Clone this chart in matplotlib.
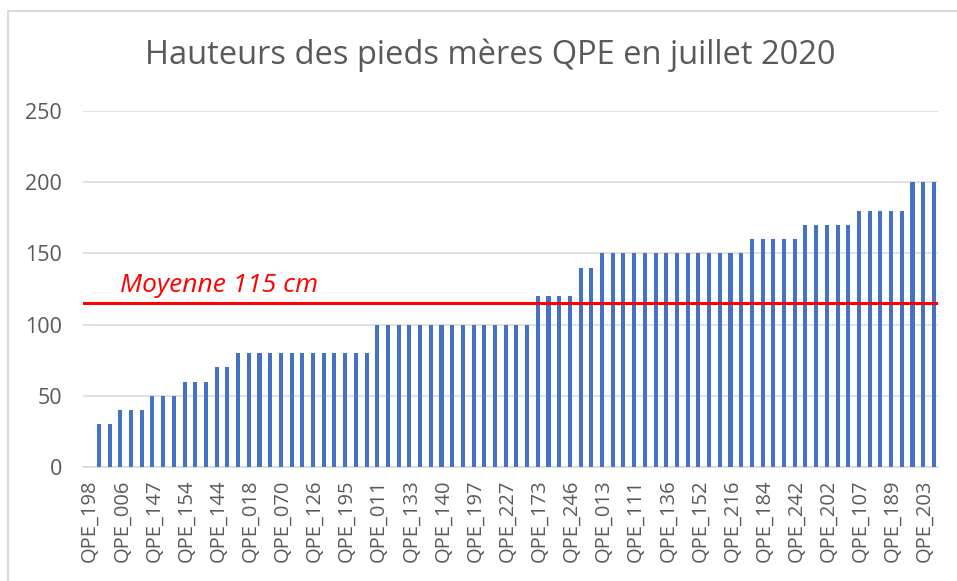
import matplotlib
matplotlib.use("Agg")
import matplotlib.pyplot as plt
import matplotlib.transforms as mtransforms
from matplotlib.lines import Line2D

# hauteurs (cm) des 79 pieds meres, triees
heights = [30, 30,
           40, 40, 40,
           50, 50, 50,
           60, 60, 60,
           70, 70,
           80, 80, 80, 80, 80, 80, 80, 80, 80, 80, 80, 80, 80,
           100, 100, 100, 100, 100, 100, 100, 100, 100, 100, 100, 100, 100, 100, 100,
           120, 120, 120, 120,
           140, 140,
           150, 150, 150, 150, 150, 150, 150, 150, 150, 150, 150, 150, 150, 150,
           160, 160, 160, 160, 160,
           170, 170, 170, 170, 170,
           180, 180, 180, 180, 180,
           200, 200, 200]

# une etiquette sur trois affichee sur l'axe
tick_labels = ['QPE_198', 'QPE_006', 'QPE_147', 'QPE_154', 'QPE_144', 'QPE_018',
               'QPE_070', 'QPE_126', 'QPE_195', 'QPE_011', 'QPE_133', 'QPE_140',
               'QPE_197', 'QPE_227', 'QPE_173', 'QPE_246', 'QPE_013', 'QPE_111',
               'QPE_136', 'QPE_152', 'QPE_216', 'QPE_184', 'QPE_242', 'QPE_202',
               'QPE_107', 'QPE_189', 'QPE_203']
mean_value = 115
mean_label = "Moyenne 115 cm"
title = "Hauteurs des pieds mères QPE en juillet 2020"

plt.rcParams['font.family'] = ['Open Sans', 'DejaVu Sans']
grey = '#595959'

fig = plt.figure(figsize=(9.57, 5.81), dpi=100)
ax = fig.add_axes([0.0867, 0.1962, 0.8933, 0.6128])

x = list(range(len(heights)))
ax.bar(x, heights, width=0.38, color='#4472C4', zorder=3)
ax.axhline(mean_value, color='#FF0000', lw=2.2, zorder=4)
ax.text(1.95, 123.0, mean_label, color='#FF0000', fontsize=19,
        style='italic', va='baseline', ha='left')

ax.set_ylim(0, 250)
ax.set_xlim(-1.49, len(heights) - 1 + 0.37)
ax.set_yticks([0, 50, 100, 150, 200, 250])
ax.yaxis.grid(True, color='#D9D9D9', lw=1.1, zorder=0)
ax.tick_params(axis='y', length=0, pad=15, labelsize=15.5, labelcolor=grey)

ax.set_xticks(x[::3])
ax.set_xticklabels(tick_labels, rotation=90, fontsize=14.5, color=grey)
ax.tick_params(axis='x', length=0, pad=9)
shift = mtransforms.ScaledTranslation(-9 / 100, 0, fig.dpi_scale_trans)
for lab in ax.get_xticklabels():
    lab.set_transform(lab.get_transform() + shift)

for side in ['top', 'right', 'left']:
    ax.spines[side].set_visible(False)
ax.spines['bottom'].set_color('#D9D9D9')
ax.spines['bottom'].set_linewidth(1.1)

fig.text(0.512, 0.905, title, ha='center', va='center', fontsize=23.5, color=grey)

# cadre du graphique
fig.add_artist(Line2D([8 / 957, 8 / 957], [0, 1 - 11 / 581], color='#D9D9D9', lw=1.5))
fig.add_artist(Line2D([8 / 957, 1], [1 - 11 / 581, 1 - 11 / 581], color='#D9D9D9', lw=1.5))

fig.savefig("out.png", dpi=100)
